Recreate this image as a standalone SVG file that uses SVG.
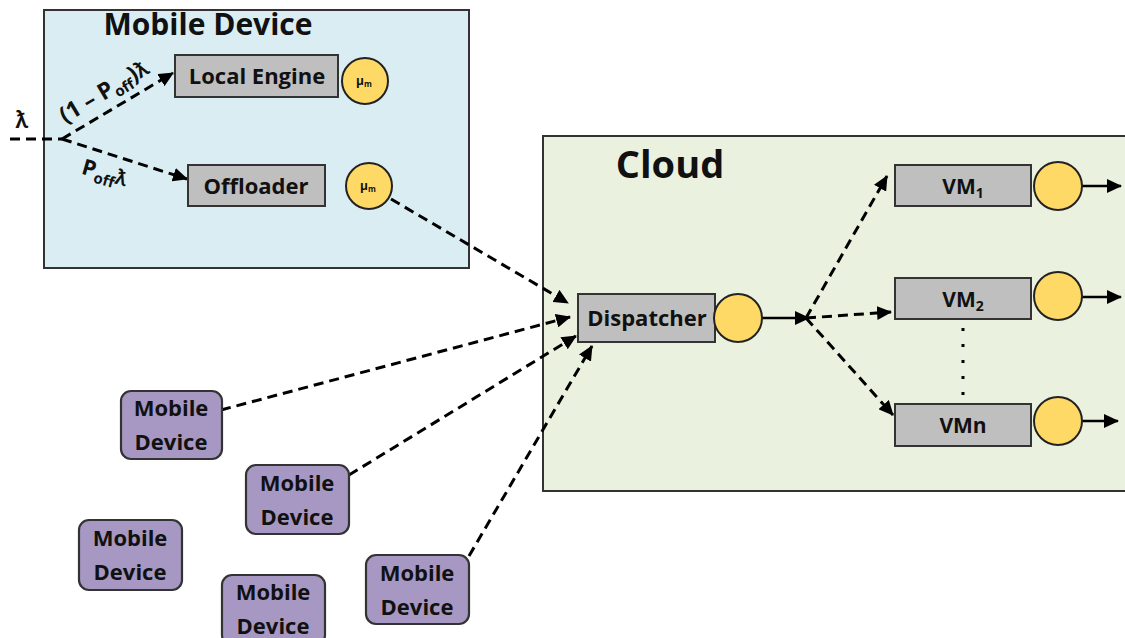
<svg xmlns="http://www.w3.org/2000/svg" width="1125" height="638" viewBox="0 0 1125 638">
  <defs>
    <marker id="arrow" markerUnits="userSpaceOnUse" markerWidth="16" markerHeight="14" refX="14" refY="7" orient="auto">
      <path d="M0,0 L15,7 L0,14 Z" fill="#000"/>
    </marker>
    <style>
      .lbl { font-family: "Open Sans", Lato, "Liberation Sans", sans-serif; font-weight: bold; fill: #111; }
      .box { fill: #bfbfbf; stroke: #333; stroke-width: 2; }
      .srv { fill: #ffd966; stroke: #222; stroke-width: 2; }
      .dev { fill: #a698c2; stroke: #333; stroke-width: 2.2; }
      .dash { fill: none; stroke: #000; stroke-width: 3; stroke-dasharray: 10 6; }
      .solid { fill: none; stroke: #000; stroke-width: 2.5; }
    </style>
  </defs>
  <rect width="1125" height="638" fill="#fff"/>

  <!-- containers -->
  <g id="mobile-device-box">
    <rect x="44" y="10" width="425" height="258" fill="#daedf3" stroke="#333" stroke-width="2"/>
    <text class="lbl" x="208" y="35" font-size="30" text-anchor="middle">Mobile Device</text>
  </g>
  <g id="cloud-box">
    <rect x="543" y="136" width="600" height="355" fill="#ebf1df" stroke="#333" stroke-width="2"/>
    <text class="lbl" x="670" y="178" font-size="38" text-anchor="middle">Cloud</text>
  </g>

  <!-- connectors -->
  <g id="connectors">
    <path class="dash" d="M10,139 L62,139"/>
    <path class="dash" d="M62,139 L173,73" marker-end="url(#arrow)"/>
    <path class="dash" d="M62,139 L187,179" marker-end="url(#arrow)"/>
    <path class="dash" d="M391,199 L568,303" marker-end="url(#arrow)"/>
    <path class="dash" d="M221,410 L570,317" marker-end="url(#arrow)"/>
    <path class="dash" d="M349,475 L576,336" marker-end="url(#arrow)"/>
    <path class="dash" d="M469,556 L592,346" marker-end="url(#arrow)"/>
    <path class="solid" d="M762,318 L809,318" marker-end="url(#arrow)"/>
    <path class="dash" d="M806,318 L887,176" marker-end="url(#arrow)"/>
    <path class="dash" d="M806,318 L891,312" marker-end="url(#arrow)"/>
    <path class="dash" d="M806,318 L893,415" marker-end="url(#arrow)"/>
    <path class="solid" d="M1082,186 L1121,186" marker-end="url(#arrow)"/>
    <path class="solid" d="M1082,297 L1121,297" marker-end="url(#arrow)"/>
    <path class="solid" d="M1082,421 L1118,421" marker-end="url(#arrow)"/>
    <path d="M963,328 L963,395" fill="none" stroke="#000" stroke-width="3" stroke-dasharray="3 13"/>
  </g>

  <!-- rate labels -->
  <g id="rate-labels">
    <text class="lbl" x="22" y="128" font-size="24" text-anchor="middle">ƛ</text>
    <text class="lbl" font-size="23" text-anchor="middle" transform="translate(108,98) rotate(-31)">(1 – P<tspan font-size="15" dy="5">off</tspan><tspan dy="-5">)ƛ</tspan></text>
    <text class="lbl" font-size="22" text-anchor="middle" transform="translate(103,180) rotate(16)">P<tspan font-size="15" dy="5">off</tspan><tspan dy="-5">ƛ</tspan></text>
  </g>

  <!-- mobile device internals -->
  <g id="local-engine">
    <rect class="box" x="175" y="55" width="163" height="42"/>
    <text class="lbl" x="257" y="84" font-size="22" text-anchor="middle">Local Engine</text>
  </g>
  <g id="local-server">
    <circle class="srv" cx="365" cy="81" r="23"/>
    <text class="lbl" x="364" y="85" font-size="12" text-anchor="middle">μ<tspan font-size="8" dy="2">m</tspan></text>
  </g>
  <g id="offloader">
    <rect class="box" x="188" y="165" width="137" height="41"/>
    <text class="lbl" x="256" y="194" font-size="22" text-anchor="middle">Offloader</text>
  </g>
  <g id="offload-server">
    <circle class="srv" cx="369" cy="186" r="23"/>
    <text class="lbl" x="368" y="190" font-size="12" text-anchor="middle">μ<tspan font-size="8" dy="2">m</tspan></text>
  </g>

  <!-- cloud internals -->
  <g id="dispatcher">
    <rect class="box" x="578" y="294" width="137" height="48"/>
    <text class="lbl" x="647" y="326" font-size="22" text-anchor="middle">Dispatcher</text>
  </g>
  <g id="dispatcher-server">
    <circle class="srv" cx="738" cy="318" r="24"/>
  </g>
  <g id="vm1">
    <rect class="box" x="895" y="165" width="136" height="41"/>
    <text class="lbl" x="963" y="194" font-size="21" text-anchor="middle">VM<tspan font-size="14" dy="4">1</tspan></text>
    <circle class="srv" cx="1058" cy="186" r="24"/>
  </g>
  <g id="vm2">
    <rect class="box" x="895" y="278" width="136" height="41"/>
    <text class="lbl" x="963" y="307" font-size="21" text-anchor="middle">VM<tspan font-size="14" dy="4">2</tspan></text>
    <circle class="srv" cx="1058" cy="296" r="24"/>
  </g>
  <g id="vmn">
    <rect class="box" x="895" y="404" width="136" height="42"/>
    <text class="lbl" x="963" y="433" font-size="21" text-anchor="middle">VMn</text>
    <circle class="srv" cx="1058" cy="421" r="24"/>
  </g>

  <!-- other mobile devices -->
  <g id="device-1">
    <rect class="dev" x="121" y="391" width="101" height="68" rx="10"/>
    <text class="lbl" x="171" y="416" font-size="22" text-anchor="middle">Mobile</text>
    <text class="lbl" x="171" y="450" font-size="22" text-anchor="middle">Device</text>
  </g>
  <g id="device-2">
    <rect class="dev" x="246" y="465" width="103" height="69" rx="10"/>
    <text class="lbl" x="297" y="491" font-size="22" text-anchor="middle">Mobile</text>
    <text class="lbl" x="297" y="525" font-size="22" text-anchor="middle">Device</text>
  </g>
  <g id="device-3">
    <rect class="dev" x="79" y="520" width="103" height="70" rx="10"/>
    <text class="lbl" x="130" y="546" font-size="22" text-anchor="middle">Mobile</text>
    <text class="lbl" x="130" y="580" font-size="22" text-anchor="middle">Device</text>
  </g>
  <g id="device-4">
    <rect class="dev" x="222" y="575" width="103" height="70" rx="10"/>
    <text class="lbl" x="273" y="600" font-size="22" text-anchor="middle">Mobile</text>
    <text class="lbl" x="273" y="634" font-size="22" text-anchor="middle">Device</text>
  </g>
  <g id="device-5">
    <rect class="dev" x="366" y="555" width="103" height="69" rx="10"/>
    <text class="lbl" x="417" y="581" font-size="22" text-anchor="middle">Mobile</text>
    <text class="lbl" x="417" y="615" font-size="22" text-anchor="middle">Device</text>
  </g>
</svg>
